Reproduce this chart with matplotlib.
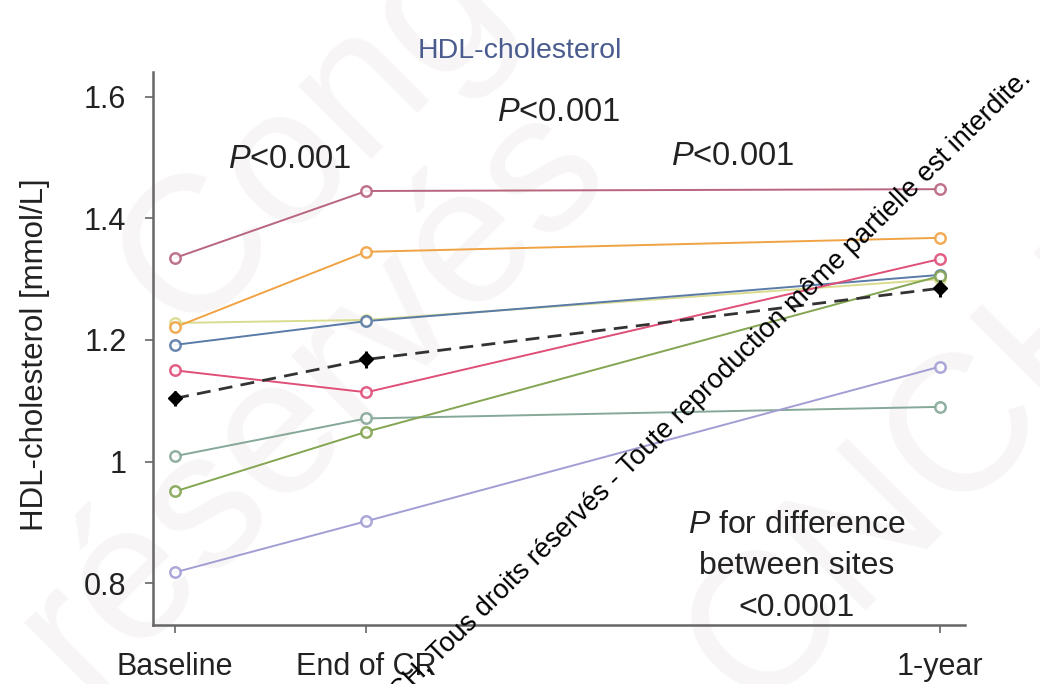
import matplotlib
matplotlib.use("Agg")
import matplotlib.pyplot as plt
import numpy as np

# time points (months) and labels
months = [0, 3, 12]
tick_labels = ["Baseline", "End of CR", "1-year"]

# HDL-cholesterol per site (mmol/L)
site_mauve = [1.335, 1.445, 1.448]
site_orange = [1.221, 1.345, 1.368]
site_yellow = [1.228, 1.233, 1.300]
site_blue = [1.192, 1.231, 1.307]
site_pink = [1.150, 1.114, 1.333]
site_greygreen = [1.009, 1.071, 1.090]
site_olive = [0.951, 1.049, 1.305]
site_lavender = [0.818, 0.902, 1.156]

mean_all = [1.104, 1.168, 1.285]
mean_err = [0.012, 0.014, 0.014]

sites = [
    (site_yellow, "#d9dc8e"),
    (site_mauve, "#b8657e"),
    (site_orange, "#f0a345"),
    (site_blue, "#5a7aa8"),
    (site_pink, "#df4f78"),
    (site_greygreen, "#86a898"),
    (site_olive, "#84a552"),
    (site_lavender, "#a29ed4"),
]

plt.rcParams.update({
    "font.family": ["Liberation Sans", "DejaVu Sans"],
    "mathtext.fontset": "custom",
    "mathtext.rm": "Liberation Sans",
    "mathtext.it": "Liberation Sans:italic",
})

fig = plt.figure(figsize=(10.4, 6.84), dpi=100)
ax = fig.add_axes([0.147, 0.086, 0.781, 0.809])
ax.set_zorder(1)

# faint background watermark
for txt, x, y, rot, fs in [("Cong", 0.30, 0.80, 45, 140),
                           ("réservés", 0.30, 0.42, 45, 140),
                           ("CNCH", 0.88, 0.30, 45, 140)]:
    fig.text(x, y, txt, rotation=rot, fontsize=fs, color="#f7f5f5",
             ha="center", va="center", zorder=-1)

for vals, col in sites:
    ax.plot(months, vals, "-", color=col, linewidth=1.4, zorder=2)
    ax.plot(months, vals, "o", markersize=7.5, markerfacecolor="#ffffff",
            markeredgecolor=col, markeredgewidth=1.8, alpha=0.9, zorder=3)

ax.plot(months, mean_all, "--", color="#333333", linewidth=2, dashes=(5, 3), zorder=4)
ax.errorbar(months, mean_all, yerr=mean_err, fmt="D", color="black",
            markersize=7, elinewidth=2.2, capsize=0, zorder=5)

ax.set_xlim(-0.35, 12.4)
ax.set_ylim(0.731, 1.641)
ax.set_xticks(months)
ax.set_xticklabels(tick_labels)
ax.set_yticks([0.8, 1.0, 1.2, 1.4, 1.6])
ax.set_yticklabels(["0.8", "1", "1.2", "1.4", "1.6"])
ax.tick_params(axis="both", labelsize=22, length=6, width=1.2, color="#666666",
               labelcolor="#222222")
ax.tick_params(axis="x", pad=13)
ax.tick_params(axis="y", pad=13)
for side in ["top", "right"]:
    ax.spines[side].set_visible(False)
for side in ["left", "bottom"]:
    ax.spines[side].set_color("#666666")
    ax.spines[side].set_linewidth(1.8)
ax.patch.set_alpha(0)

ax.set_ylabel("HDL-cholesterol [mmol/L]", fontsize=22.5, color="#222222")
ax.yaxis.set_label_coords(-0.127, 0.488)
fig.text(0.5, 0.925, "HDL-cholesterol", fontsize=20.5, color="#4a5c8e", ha="center", va="center")

ax.text(1.79, 1.496, r"$P$<0.001", fontsize=23.5, ha="center", va="center", color="#222222")
ax.text(6.01, 1.574, r"$P$<0.001", fontsize=23.5, ha="center", va="center", color="#222222")
ax.text(8.75, 1.501, r"$P$<0.001", fontsize=23.5, ha="center", va="center", color="#222222")
ax.text(9.76, 0.828, "$P$ for difference\nbetween sites\n<0.0001", fontsize=23,
        ha="center", va="center", color="#222222", linespacing=1.5)

# copyright overlay
fig.text(0.997, 0.877, "CNCH, Tous droits réservés - Toute reproduction même partielle est interdite.",
         rotation=44.5, fontsize=19.5, color="black", ha="right", va="bottom",
         rotation_mode="anchor", zorder=10)

fig.savefig("out.png", dpi=100)
